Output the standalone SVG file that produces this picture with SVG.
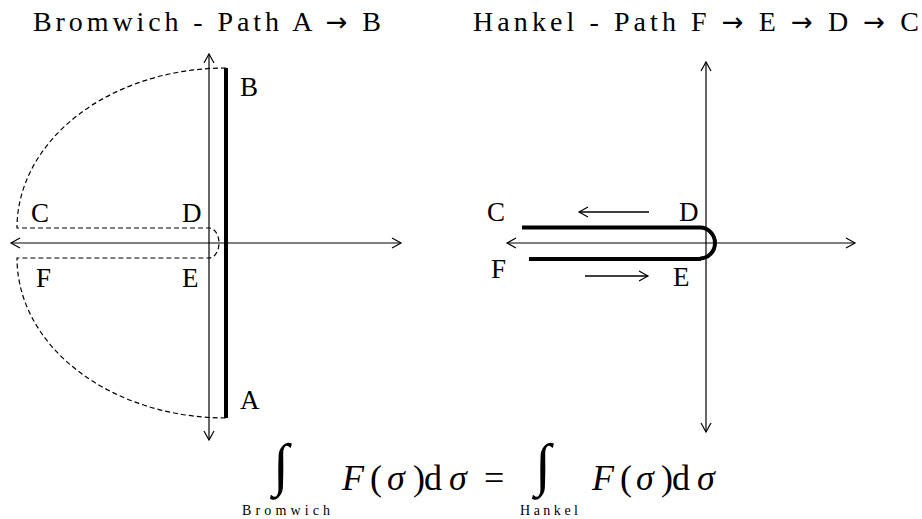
<svg xmlns="http://www.w3.org/2000/svg" width="922" height="519" viewBox="0 0 922 519" font-family="'Liberation Serif', 'Times New Roman', serif">
<defs>
<marker id="arr" markerUnits="userSpaceOnUse" markerWidth="20" markerHeight="20" refX="0" refY="0" viewBox="-10 -10 20 20" orient="auto-start-reverse">
<path d="M-9,-5 L0,0 L-9,5" fill="none" stroke="#000" stroke-width="1.2"/>
</marker>
<style>
text{font-family:'Liberation Serif','Times New Roman',serif;fill:#000}
.lbl{font-size:27px}
.title{font-size:28px}
.ar{font-family:'DejaVu Sans',sans-serif;font-size:26px}
.axis{stroke:#000;stroke-width:1.2;fill:none;marker-start:url(#arr);marker-end:url(#arr)}
.dash{stroke:#000;stroke-width:1.2;fill:none;stroke-dasharray:5 3}
.thick{stroke:#000;stroke-width:4;fill:none}
.arrow{stroke:#000;stroke-width:1.5;fill:none;marker-end:url(#arr)}
.math{font-size:36px}
.it{font-style:italic}
.int{font-size:58px}
.sub{font-size:14px}
</style>
</defs>
<rect width="922" height="519" fill="#fff"/>
<g id="titles">
<text class="title" x="33" y="31" textLength="348" lengthAdjust="spacing">Bromwich - Path A <tspan class="ar">→</tspan> B</text>
<text class="title" x="473" y="31" textLength="446" lengthAdjust="spacing">Hankel - Path F <tspan class="ar">→</tspan> E <tspan class="ar">→</tspan> D <tspan class="ar">→</tspan> C</text>
</g>
<g id="connectors">
<line class="axis" x1="209" y1="440" x2="209" y2="54"/>
<line class="axis" x1="11" y1="243" x2="401" y2="243"/>
<line class="axis" x1="706" y1="432" x2="706" y2="62"/>
<line class="axis" x1="507" y1="243" x2="855" y2="243"/>
</g>
<g id="bromwich">
<line class="thick" x1="226" y1="68" x2="226" y2="418"/>
<path class="dash" d="M226,68 A209 160 0 0 0 17,228 L209,228 A10 15 0 0 1 209,258 L17,258 A209 160 0 0 0 226,418"/>
<text class="lbl" x="240" y="96">B</text>
<text class="lbl" x="240" y="409">A</text>
<text class="lbl" x="31" y="222">C</text>
<text class="lbl" x="182" y="222">D</text>
<text class="lbl" x="36" y="287">F</text>
<text class="lbl" x="182" y="287">E</text>
</g>
<g id="hankel">
<path class="thick" d="M522,227.5 L700,227.5 A15 15.5 0 0 1 700,258.5" stroke-width="4"/>
<line class="thick" x1="529" y1="259" x2="701" y2="259" stroke-width="3"/>
<line class="arrow" x1="649" y1="212" x2="579" y2="212"/>
<line class="arrow" x1="585" y1="276" x2="648" y2="276"/>
<text class="lbl" x="487" y="221">C</text>
<text class="lbl" x="679" y="221">D</text>
<text class="lbl" x="491" y="278">F</text>
<text class="lbl" x="673" y="286">E</text>
</g>
<g id="formula">
<text class="int" x="273" y="484">∫</text>
<text class="math" y="490"><tspan class="it" x="342">F</tspan><tspan x="370">(</tspan><tspan class="it" x="387">σ</tspan><tspan x="413">)</tspan><tspan x="424">d</tspan><tspan class="it" x="449">σ</tspan></text>
<text class="math" x="484" y="490">=</text>
<text class="int" x="535" y="484">∫</text>
<text class="math" y="490"><tspan class="it" x="592">F</tspan><tspan x="620">(</tspan><tspan class="it" x="636">σ</tspan><tspan x="661">)</tspan><tspan x="672">d</tspan><tspan class="it" x="697">σ</tspan></text>
<text class="sub" x="242" y="515" textLength="88" lengthAdjust="spacing">Bromwich</text>
<text class="sub" x="520" y="515" textLength="58" lengthAdjust="spacing">Hankel</text>
</g>
</svg>
